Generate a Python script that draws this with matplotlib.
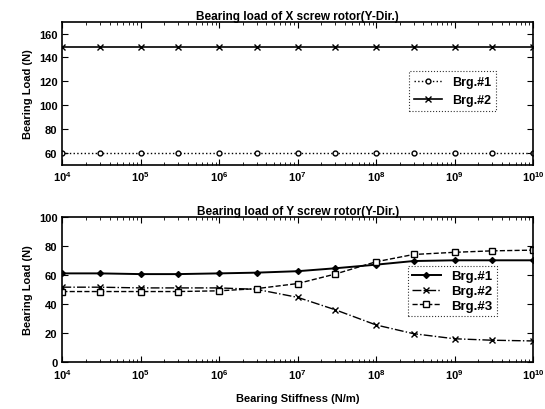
import matplotlib
matplotlib.use("Agg")
import matplotlib.pyplot as plt
import numpy as np

# --- data ---
stiffness = [1e4, 3e4, 1e5, 3e5, 1e6, 3e6, 1e7, 3e7, 1e8, 3e8, 1e9, 3e9, 1e10]

x_brg1 = [60.0] * 13
x_brg2 = [148.5] * 13

y_brg1 = [61, 61, 60.5, 60.5, 61, 61.5, 62.5, 64.5, 67, 69.5, 70, 70, 70]
y_brg2 = [51.5, 51.5, 51, 51, 51, 50, 44.5, 36, 25.5, 19.5, 16, 15, 14.5]
y_brg3 = [48.5, 48.5, 48.5, 48.5, 49, 50.5, 54, 60.5, 69, 74, 75.5, 76.5, 77]

x_ticks = [1e4, 1e5, 1e6, 1e7, 1e8, 1e9, 1e10]

plt.rcParams['font.family'] = ['Liberation Sans', 'DejaVu Sans']
plt.rcParams['font.weight'] = 'bold'
plt.rcParams['font.size'] = 8

fig = plt.figure(figsize=(5.45, 4.10), dpi=100)
ax1 = fig.add_axes([0.1143, 0.5959, 0.8637, 0.3488])
ax2 = fig.add_axes([0.1143, 0.1146, 0.8637, 0.3544])


def style(ax):
    ax.set_xscale('log')
    ax.set_xlim(1e4, 1e10)
    ax.set_xticks(x_ticks)
    ax.tick_params(which='both', direction='in', top=True, right=True)
    ax.tick_params(which='major', length=4, labelsize=8)
    ax.tick_params(which='minor', length=2)
    for s in ax.spines.values():
        s.set_linewidth(1.2)
    for lbl in ax.get_xticklabels() + ax.get_yticklabels():
        lbl.set_fontweight('bold')


def frame(leg):
    leg.get_frame().set_edgecolor('black')
    leg.get_frame().set_linestyle(':')
    leg.get_frame().set_linewidth(0.8)


# top panel
ax1.plot(stiffness, x_brg1, 'k:', marker='o', ms=3.5, mfc='white', lw=1.0, label='Brg.#1')
ax1.plot(stiffness, x_brg2, 'k-', marker='x', ms=4, lw=1.2, label='Brg.#2')
ax1.set_ylim(50, 170)
ax1.set_yticks([60, 80, 100, 120, 140, 160])
ax1.set_ylabel('Bearing Load (N)', fontweight='bold')
ax1.set_title('Bearing load of X screw rotor(Y-Dir.)', fontweight='bold', fontsize=8.5, pad=2)
style(ax1)
leg1 = ax1.legend(loc='upper left', bbox_to_anchor=(0.737, 0.655),
                  frameon=True, fancybox=False, fontsize=9, handlelength=2.2,
                  borderaxespad=0)
frame(leg1)

# bottom panel
ax2.plot(stiffness, y_brg1, 'k-', marker='D', ms=3, lw=1.4, label='Brg.#1')
ax2.plot(stiffness, y_brg2, 'k-.', marker='x', ms=4.5, lw=1.0, label='Brg.#2')
ax2.plot(stiffness, y_brg3, 'k--', marker='s', ms=4.5, mfc='white', lw=1.0, label='Brg.#3')
ax2.set_ylim(0, 100)
ax2.set_yticks([0, 20, 40, 60, 80, 100])
ax2.set_ylabel('Bearing Load (N)', fontweight='bold')
ax2.set_xlabel('Bearing Stiffness (N/m)', fontweight='bold', labelpad=9)
ax2.set_title('Bearing load of Y screw rotor(Y-Dir.)', fontweight='bold', fontsize=8.5, pad=2)
style(ax2)
leg2 = ax2.legend(loc='upper left', bbox_to_anchor=(0.734, 0.66),
                  frameon=True, fancybox=False, fontsize=9.5, handlelength=2.2,
                  borderaxespad=0, labelspacing=0.2, borderpad=0.3)
frame(leg2)

fig.savefig('out.png', dpi=100)
